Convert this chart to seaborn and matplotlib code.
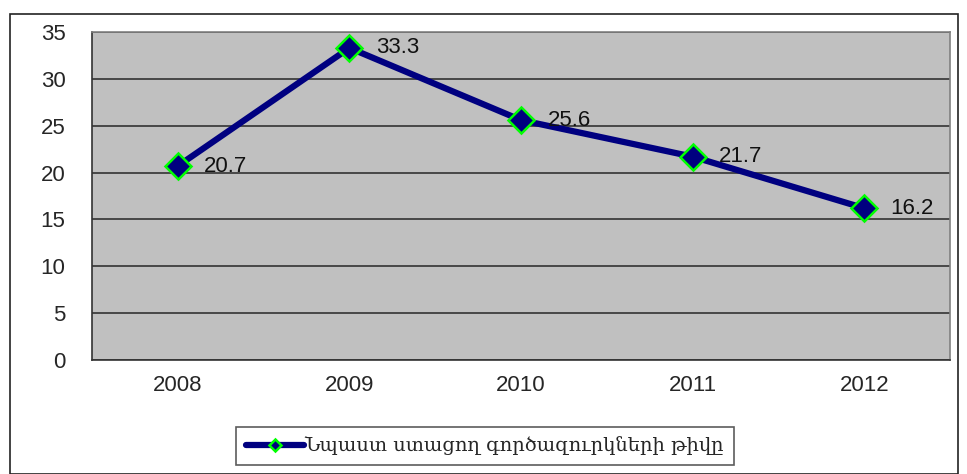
import pandas as pd
import matplotlib
matplotlib.use("Agg")
import matplotlib.pyplot as plt
import seaborn as sns
from matplotlib.patches import Rectangle

# data
years = ["2008", "2009", "2010", "2011", "2012"]
values = [20.7, 33.3, 25.6, 21.7, 16.2]
series_name = "Նպաստ ստացող գործազուրկների թիվը"

df = pd.DataFrame({"pos": range(len(years)), "year": years, "value": values})

sns.set_style("white")
plt.rcParams["font.family"] = ["Liberation Sans", "DejaVu Sans"]

fig = plt.figure(figsize=(9.67, 4.74), dpi=100)
ax = fig.add_axes([92 / 967, 1 - 360 / 474, (950 - 92) / 967, (360 - 32) / 474])
ax.set_facecolor("#C0C0C0")

sns.lineplot(data=df, x="pos", y="value", ax=ax, color="#000080", linewidth=4.5,
             marker="D", markersize=13, markerfacecolor="#000080",
             markeredgecolor="#00FF00", markeredgewidth=1.8, label=series_name,
             zorder=5)

for i, v in enumerate(values):
    ax.annotate(f"{v:.1f}", (i, v), xytext=(19, 0), textcoords="offset points",
                va="center", ha="left", fontsize=16, color="#111111", zorder=6)

ax.set_xlim(-0.5, len(years) - 0.5)
ax.set_ylim(0, 35)
ax.set_yticks(range(0, 36, 5))
ax.yaxis.grid(True, color="#333333", linewidth=1.2)
ax.set_axisbelow(True)

# x ticks at category borders, labels in the middle
ax.set_xticks([i - 0.5 for i in range(len(years) + 1)])
ax.set_xticklabels([""] * (len(years) + 1))
ax.set_xticks(range(len(years)), minor=True)
ax.set_xticklabels(years, minor=True)
ax.tick_params(axis="x", which="major", length=7, width=1.2, color="#333333", direction="out")
ax.tick_params(axis="x", which="minor", length=0, labelsize=16, pad=11)
ax.tick_params(axis="y", length=7, width=1.2, color="#333333", direction="out",
               labelsize=16, pad=12)
ax.set_xlabel("")
ax.set_ylabel("")

for s in ["left", "bottom"]:
    ax.spines[s].set_color("#333333")
    ax.spines[s].set_linewidth(1.2)
for s in ["top", "right"]:
    ax.spines[s].set_color("#808080")
    ax.spines[s].set_linewidth(1.2)

leg = ax.legend(loc="center", bbox_to_anchor=(485 / 967, 1 - 446 / 474),
                bbox_transform=fig.transFigure, frameon=True, fancybox=False,
                prop={"family": ["DejaVu Serif", "DejaVu Sans"], "size": 14},
                handlelength=3.0, handletextpad=0.0, borderpad=0.5,
                borderaxespad=0, markerscale=0.5)
leg.get_frame().set_edgecolor("#333333")
leg.get_frame().set_linewidth(1.2)
for line in leg.get_lines():
    line.set_linewidth(4.5)

# outer chart border
fig.patches.append(Rectangle((10 / 967, 0), 948 / 967, 1 - 14 / 474,
                             transform=fig.transFigure, fill=False,
                             edgecolor="#222222", linewidth=1.2))

fig.savefig("out.png", dpi=100)
